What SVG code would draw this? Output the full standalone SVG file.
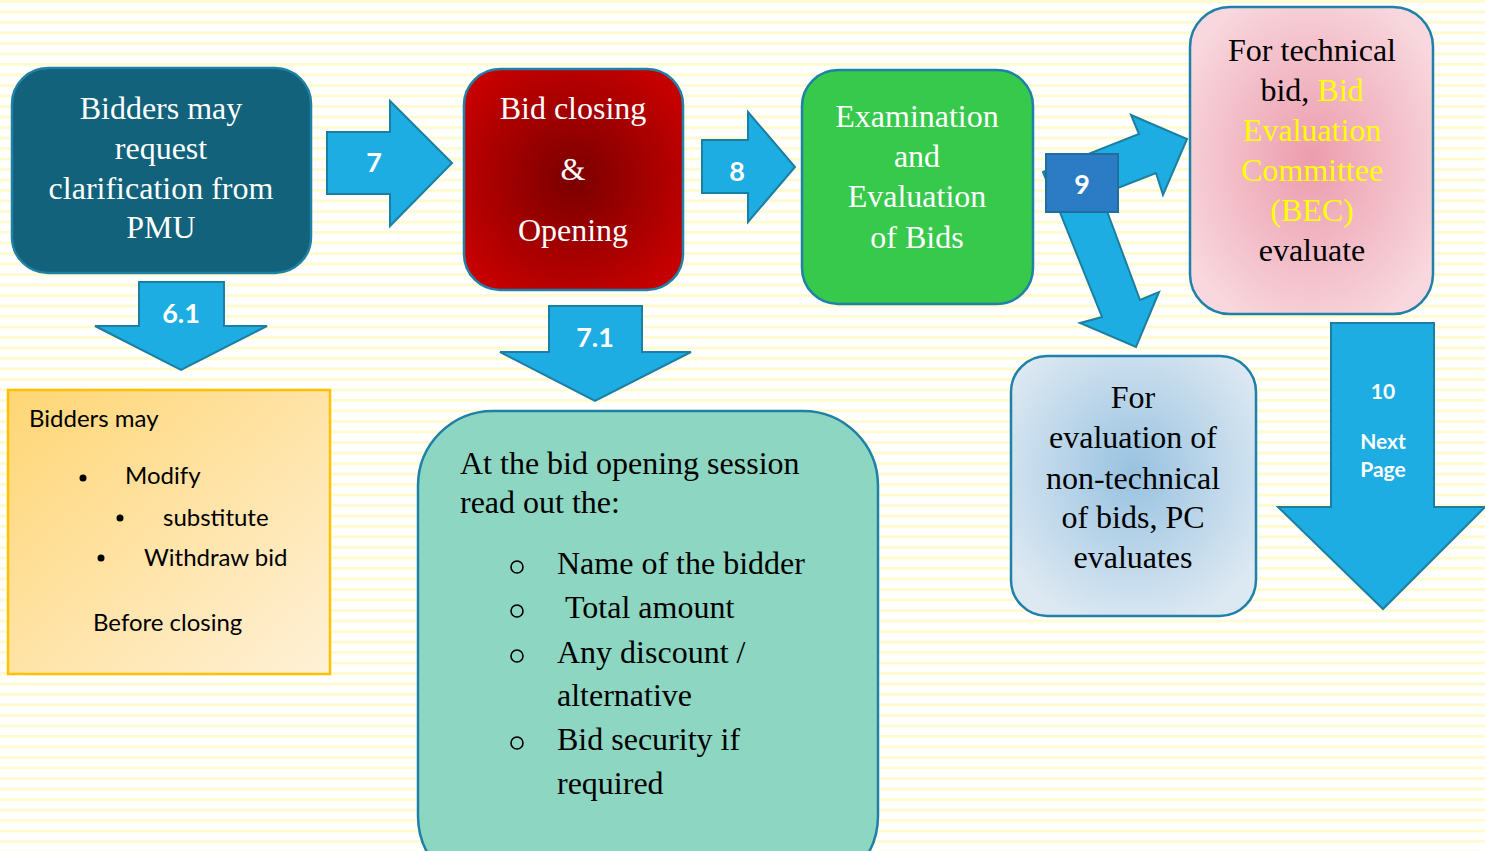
<svg xmlns="http://www.w3.org/2000/svg" width="1485" height="851" viewBox="0 0 1485 851">
<defs>
<pattern id="stripes" x="0" y="0" width="20" height="10.5" patternUnits="userSpaceOnUse">
<rect x="0" y="0" width="20" height="3" fill="#fffbd0"/>
</pattern>
<radialGradient id="gRed" cx="50%" cy="50%" r="60%">
<stop offset="0" stop-color="#7a0000"/>
<stop offset="1" stop-color="#c60000"/>
</radialGradient>
<radialGradient id="gPink" cx="50%" cy="50%" r="60%">
<stop offset="0" stop-color="#ec9cad"/>
<stop offset="1" stop-color="#f8d8de"/>
</radialGradient>
<radialGradient id="gBlue" cx="50%" cy="45%" r="60%">
<stop offset="0" stop-color="#98c2e0"/>
<stop offset="1" stop-color="#dce8f2"/>
</radialGradient>
<linearGradient id="gYellow" x1="0" y1="0" x2="1" y2="1">
<stop offset="0" stop-color="#ffd675"/>
<stop offset="1" stop-color="#fff1d8"/>
</linearGradient>
<style>
.serif{font-family:"Liberation Serif","Times New Roman",serif;font-size:32px}
.w{fill:#ffffff}
.k{fill:#000000}
.y{fill:#ffff00}
.c{text-anchor:middle}
.box{stroke:#1f80a8;stroke-width:2.5}
.arr{fill:#1eade2;stroke:#1b7ea3;stroke-width:2}
.lbl{font-family:Lato,"Liberation Sans",sans-serif;font-weight:bold;fill:#ffffff;text-anchor:middle}
.cal{font-family:Lato,"Liberation Sans",sans-serif;font-size:24px;fill:#000}
</style>
</defs>
<rect width="1485" height="851" fill="#ffffff"/>
<rect width="1485" height="851" fill="url(#stripes)"/>

<g id="connectors">
<g id="arrow7">
<polygon class="arr" points="327,132 390,132 390,101 452,163 390,226 390,194 327,194"/>
<text class="lbl" x="374" y="172" font-size="27">7</text>
</g>
<g id="arrow8">
<polygon class="arr" points="702,140 748,140 748,112 795,167 748,222 748,193 702,193"/>
<text class="lbl" x="737" y="181" font-size="27">8</text>
</g>
<g id="arrow61">
<polygon class="arr" points="139,282 224,282 224,326 267,326 181,370 95,326 139,326"/>
<text class="lbl" x="181" y="323" font-size="27">6.1</text>
</g>
<g id="arrow71">
<polygon class="arr" points="549,306 642,306 642,352 691,352 595,401 500,352 549,352"/>
<text class="lbl" x="595" y="347" font-size="27">7.1</text>
</g>
<g id="arrow9">
<polygon class="arr" points="1043,172 1139,134 1131,115 1187,139 1163,195 1156,173 1059,211"/>
<polygon class="arr" points="1053,195 1102,317 1080,323 1136,347 1159,292 1140,300 1101,195"/>
<rect x="1046" y="154" width="72" height="58" fill="#2b7cc4" stroke="#1f6e9c" stroke-width="2"/>
<text class="lbl" x="1082" y="194" font-size="27">9</text>
</g>
<g id="arrow10">
<polygon class="arr" points="1331,323 1434,323 1434,507 1485,507 1383,609 1278,507 1331,507"/>
<text class="lbl" x="1383" y="399" font-size="21">10</text>
<text class="lbl" x="1383" y="449" font-size="21">Next</text>
<text class="lbl" x="1383" y="477" font-size="21">Page</text>
</g>
</g>

<g id="node-clarification">
<rect class="box" x="12" y="68" width="299" height="205" rx="36" fill="#11627a"/>
<text class="serif w c" x="161" y="119">Bidders may</text>
<text class="serif w c" x="161" y="159">request</text>
<text class="serif w c" x="161" y="199">clarification from</text>
<text class="serif w c" x="161" y="238">PMU</text>
</g>

<g id="node-closing">
<rect class="box" x="464" y="69" width="219" height="221" rx="36" fill="url(#gRed)"/>
<text class="serif w c" x="573" y="119">Bid closing</text>
<text class="serif w c" x="573" y="180">&amp;</text>
<text class="serif w c" x="573" y="241">Opening</text>
</g>

<g id="node-examination">
<rect class="box" x="802" y="70" width="231" height="234" rx="36" fill="#36c94c"/>
<text class="serif w c" x="917" y="127">Examination</text>
<text class="serif w c" x="917" y="167">and</text>
<text class="serif w c" x="917" y="207">Evaluation</text>
<text class="serif w c" x="917" y="248">of Bids</text>
</g>

<g id="node-technical">
<rect class="box" x="1190" y="7" width="243" height="307" rx="40" fill="url(#gPink)"/>
<text class="serif k c" x="1312" y="61">For technical</text>
<text class="serif c" x="1312" y="101"><tspan class="k">bid, </tspan><tspan class="y">Bid</tspan></text>
<text class="serif y c" x="1312" y="141">Evaluation</text>
<text class="serif y c" x="1312" y="181">Committee</text>
<text class="serif y c" x="1312" y="221">(BEC)</text>
<text class="serif k c" x="1312" y="261">evaluate</text>
</g>

<g id="node-nontechnical">
<rect class="box" x="1011" y="356" width="245" height="260" rx="36" fill="url(#gBlue)"/>
<text class="serif k c" x="1133" y="408">For</text>
<text class="serif k c" x="1133" y="448">evaluation of</text>
<text class="serif k c" x="1133" y="489">non-technical</text>
<text class="serif k c" x="1133" y="528">of bids, PC</text>
<text class="serif k c" x="1133" y="568">evaluates</text>
</g>

<g id="node-modify">
<rect x="8" y="390" width="322" height="284" fill="url(#gYellow)" stroke="#ffc000" stroke-width="2.5"/>
<text class="cal" x="29" y="427">Bidders may</text>
<circle cx="83" cy="478" r="3.5" fill="#000"/>
<text class="cal" x="125" y="484">Modify</text>
<circle cx="120" cy="518" r="3.5" fill="#000"/>
<text class="cal" x="163" y="526">substitute</text>
<circle cx="101" cy="558" r="3.5" fill="#000"/>
<text class="cal" x="144" y="566">Withdraw bid</text>
<text class="cal" x="93" y="631">Before closing</text>
</g>

<g id="node-opening-session">
<rect class="box" x="418" y="411" width="460" height="480" rx="75" fill="#8dd6c2"/>
<text class="serif k" x="460" y="474">At the bid opening session</text>
<text class="serif k" x="460" y="513">read out the:</text>
<g fill="none" stroke="#000" stroke-width="1.6">
<circle cx="517" cy="567" r="6"/>
<circle cx="517" cy="611" r="6"/>
<circle cx="517" cy="656" r="6"/>
<circle cx="517" cy="743" r="6"/>
</g>
<text class="serif k" x="557" y="574">Name of the bidder</text>
<text class="serif k" x="565" y="618">Total amount</text>
<text class="serif k" x="557" y="663">Any discount /</text>
<text class="serif k" x="557" y="706">alternative</text>
<text class="serif k" x="557" y="750">Bid security if</text>
<text class="serif k" x="557" y="794">required</text>
</g>
</svg>
